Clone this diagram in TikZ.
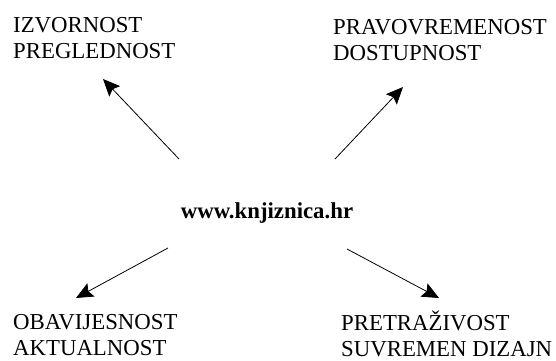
\documentclass[tikz,border=0pt]{standalone}
\usepackage{fontspec}
\setmainfont{Liberation Serif}
\usetikzlibrary{arrows.meta}
\begin{document}
\begin{tikzpicture}[x=1pt,y=1pt,
  lbl/.style={inner sep=0pt,anchor=base west,align=left,font=\fontsize{22.8}{25.5}\selectfont},
  arr/.style={line width=0.8pt,-{Stealth[length=17pt,width=15pt,inset=3pt]}}]
\useasboundingbox (0,0) rectangle (556,360);
\node[lbl] (tl) at (13,302) {IZVORNOST\\PREGLEDNOST};
\node[lbl] (tr) at (333,300) {PRAVOVREMENOST\\DOSTUPNOST};
\node[lbl] (bl) at (13,5) {OBAVIJESNOST\\AKTUALNOST};
\node[lbl] (br) at (341,4) {PRETRAŽIVOST\\SUVREMEN DIZAJN};
\node[inner sep=0pt,anchor=base,font=\fontsize{22.8}{26}\selectfont\bfseries] (c) at (267,142) {www.knjiznica.hr};
\coordinate (t1) at (179,201); \coordinate (h1) at (103,281);
\coordinate (t2) at (335,201); \coordinate (h2) at (403,273);
\coordinate (t3) at (168,112); \coordinate (h3) at (76,62);
\coordinate (t4) at (347,111); \coordinate (h4) at (439,62);
\draw[arr] (t1) -- (h1);
\draw[arr] (t2) -- (h2);
\draw[arr] (t3) -- (h3);
\draw[arr] (t4) -- (h4);
\end{tikzpicture}
\end{document}
